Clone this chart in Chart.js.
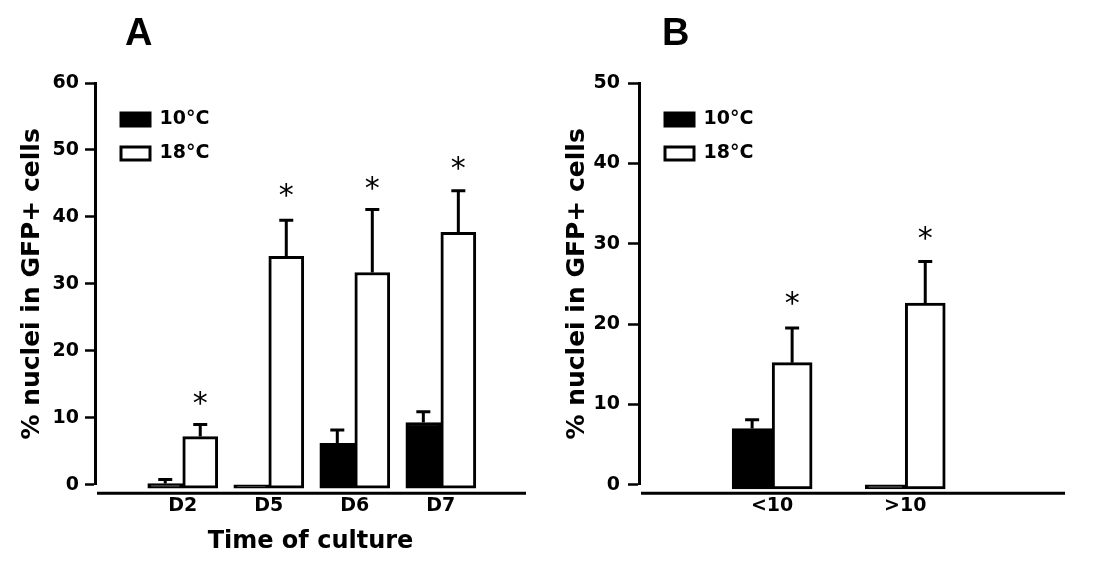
<!DOCTYPE html>
<html>
<head>
<meta charset="utf-8">
<script src="https://cdn.jsdelivr.net/npm/chart.js@4.4.1/dist/chart.umd.min.js"></script>
<style>
  body { margin: 0; background: #fff; }
  #wrap { position: relative; width: 1104px; height: 568px; }
  .panel { position: absolute; top: 0; width: 552px; height: 568px; }
  .letter { position: absolute; top: 13px; font: bold 38px/38px "Liberation Sans", Arial, sans-serif; color: #000; }
</style>
</head>
<body>
<div id="wrap">
  <div class="panel" style="left:0"><canvas id="chartA" width="552" height="568"></canvas></div>
  <div class="panel" style="left:552px"><canvas id="chartB" width="552" height="568"></canvas></div>
  <div class="letter" style="left:125px">A</div>
  <div class="letter" style="left:662px">B</div>
</div>
<script>
// series names
const seriesNames = ['10°C', '18°C'];

// panel A: time of culture
const daysA = ['D2', 'D5', 'D6', 'D7'];
const coldA = [0.2, 0, 6.2, 9.3];
const coldA_sem = [0.6, 0, 2.0, 1.6];
const warmA = [7.2, 34.1, 31.7, 37.7];
const warmA_sem = [1.8, 5.4, 9.4, 6.2];
const starsA = [12.9, 44, 45, 48];
const ticksA = [0, 10, 20, 30, 40, 50, 60];

// panel B
const groupsB = ['<10', '>10'];
const coldB = [7.0, 0];
const coldB_sem = [1.1, 0];
const warmB = [15.2, 22.6];
const warmB_sem = [4.3, 5.2];
const starsB = [23.2, 31.3];
const ticksB = [0, 10, 20, 30, 40, 50];

const FAMILY = "'DejaVu Sans', sans-serif";

// error bars, asterisks, detached x baseline, legend placement
const extras = {
  id: 'extras',
  afterLayout(chart, args, opts) {
    const a = chart.chartArea;
    chart.legend.left = a.left + opts.legendDx;
    chart.legend.top = a.top + opts.legendDy;
  },
  afterDatasetsDraw(chart, args, opts) {
    const ctx = chart.ctx;
    const y = chart.scales.y;
    chart.data.datasets.forEach((ds, di) => {
      const meta = chart.getDatasetMeta(di);
      meta.data.forEach((bar, i) => {
        const sem = ds.sem[i];
        if (!sem) return;
        const top = y.getPixelForValue(ds.data[i].y + sem);
        ctx.save();
        ctx.strokeStyle = '#000';
        ctx.lineWidth = 3;
        ctx.beginPath();
        ctx.moveTo(bar.x, bar.y);
        ctx.lineTo(bar.x, top);
        ctx.moveTo(bar.x - 7, top);
        ctx.lineTo(bar.x + 7, top);
        ctx.stroke();
        ctx.restore();
      });
    });

    // asterisks above the 18°C bars
    const meta = chart.getDatasetMeta(1);
    ctx.save();
    ctx.fillStyle = '#000';
    ctx.font = "30px 'DejaVu Sans', sans-serif";
    ctx.textAlign = 'center';
    ctx.textBaseline = 'alphabetic';
    const m = ctx.measureText('*');
    const shift = (m.actualBoundingBoxAscent - m.actualBoundingBoxDescent) / 2;
    opts.stars.forEach((v, i) => {
      const bar = meta.data[i];
      ctx.fillText('*', bar.x, y.getPixelForValue(v) + shift);
    });
    ctx.restore();

    // x axis line sits a little below the zero tick
    const a = chart.chartArea;
    ctx.save();
    ctx.strokeStyle = '#000';
    ctx.lineWidth = 3;
    ctx.beginPath();
    ctx.moveTo(a.left + 2, a.bottom + 8.5);
    ctx.lineTo(a.right, a.bottom + 8.5);
    ctx.stroke();
    ctx.restore();
  }
};

function makeChart(id, cfg) {
  const toPts = arr => arr.map((v, i) => ({ x: i + 1, y: v }));
  const tickFont = { family: FAMILY, size: 19, weight: 'bold' };

  const xAxis = {
    type: 'linear',
    offset: false,
    min: cfg.xMin,
    max: cfg.xMax,
    afterBuildTicks: s => { s.ticks = cfg.groups.map((g, i) => ({ value: i + 1 })); },
    grid: { display: false, drawTicks: false, offset: false },
    border: { display: false },
    ticks: {
      callback: (v, i) => cfg.groups[i],
      font: tickFont, color: '#000', padding: 10,
      autoSkip: false, maxRotation: 0
    },
    title: {
      display: !!cfg.xTitle,
      text: cfg.xTitle,
      color: '#000',
      font: { family: FAMILY, size: 24, weight: 'bold' },
      padding: { top: 0, bottom: 6 }
    }
  };

  new Chart(document.getElementById(id), {
    type: 'bar',
    data: {
      datasets: [
        {
          label: seriesNames[0],
          data: toPts(cfg.cold),
          sem: cfg.coldSem,
          backgroundColor: '#000',
          borderColor: '#000',
          borderWidth: 3,
          borderSkipped: false,
          barThickness: cfg.barW,
          base: -0.5,
          clip: false
        },
        {
          label: seriesNames[1],
          data: toPts(cfg.warm),
          sem: cfg.warmSem,
          backgroundColor: '#fff',
          borderColor: '#000',
          borderWidth: 3,
          borderSkipped: false,
          barThickness: cfg.barW,
          base: -0.5,
          clip: false
        }
      ]
    },
    options: {
      responsive: false,
      animation: false,
      events: [],
      devicePixelRatio: 1,
      layout: { padding: cfg.padding },
      plugins: {
        legend: {
          position: 'chartArea',
          align: 'start',
          labels: {
            boxWidth: 29,
            boxHeight: 13,
            padding: 15,
            color: '#000',
            font: { family: FAMILY, size: 19, weight: 'bold' }
          }
        },
        tooltip: { enabled: false },
        extras: { stars: cfg.stars, legendDx: 11, legendDy: 12 }
      },
      scales: {
        x: xAxis,
        y: {
          min: 0,
          max: cfg.yMax,
          afterBuildTicks: s => { s.ticks = cfg.yTicks.map(v => ({ value: v })); },
          afterFit: s => { s.width = cfg.yAxisW; },
          grid: {
            drawOnChartArea: false, drawTicks: true,
            tickLength: cfg.tickLen, tickColor: '#000', tickWidth: 2.5
          },
          border: { display: true, color: '#000', width: 3 },
          ticks: { font: tickFont, color: '#000', padding: cfg.tickPad },
          title: {
            display: true,
            text: '% nuclei in GFP+ cells',
            color: '#000',
            font: { family: FAMILY, size: 25, weight: 'bold' },
            padding: { top: cfg.yTitlePad, bottom: 0 }
          }
        }
      }
    },
    plugins: [extras]
  });
}

makeChart('chartA', {
  groups: daysA, cold: coldA, coldSem: coldA_sem, warm: warmA, warmSem: warmA_sem,
  stars: starsA, yTicks: ticksA, yMax: 60,
  xMin: -0.02, xMax: 4.99, barW: 35, xTitle: 'Time of culture',
  yAxisW: 95, tickLen: 10, tickPad: 6, yTitlePad: 17,
  padding: { top: 83, right: 26, bottom: 5.6, left: 0 }
});

makeChart('chartB', {
  groups: groupsB, cold: coldB, coldSem: coldB_sem, warm: warmB, warmSem: warmB_sem,
  stars: starsB, yTicks: ticksB, yMax: 50,
  xMin: 0, xMax: 3.2, barW: 40, xTitle: '',
  yAxisW: 87, tickLen: 11, tickPad: 8, yTitlePad: 10,
  padding: { top: 83, right: 39, bottom: 40.4, left: 0 }
});
</script>
</body>
</html>
